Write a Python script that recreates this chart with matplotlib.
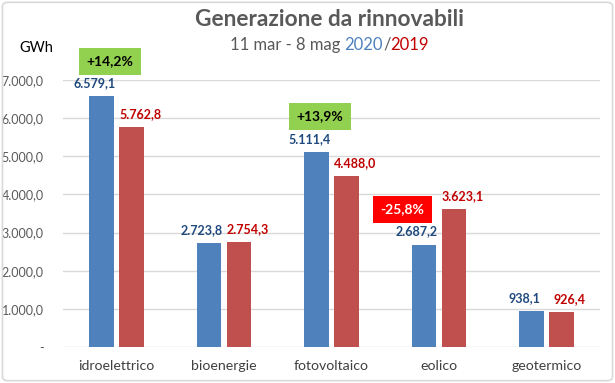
# -*- coding: utf-8 -*-
"""Generazione da rinnovabili, 11 mar - 8 mag 2020/2019"""
import matplotlib
matplotlib.use("Agg")
import matplotlib.pyplot as plt
from matplotlib.patches import FancyBboxPatch
import numpy as np

plt.rcParams["font.family"] = ["Lato", "DejaVu Sans"]

categories = ["idroelettrico", "bioenergie", "fotovoltaico", "eolico", "geotermico"]
val_2020 = [6579.1, 2723.8, 5111.4, 2687.2, 938.1]
val_2019 = [5762.8, 2754.3, 4488.0, 3623.1, 926.4]
yticks = [0, 1000, 2000, 3000, 4000, 5000, 6000, 7000]

# variazioni evidenziate: (categoria, testo, colore box, colore testo)
badges = [
    (0, "+14,2%", "#92D050", "black"),
    (2, "+13,9%", "#92D050", "black"),
    (3, "-25,8%", "#FF0000", "white"),
]

BLUE = "#4F81BD"
RED = "#C0504D"
BLUE_TXT = "#1F497D"
RED_TXT = "#C00000"
GRAY = "#595959"


def it_fmt(v):
    # 6579.1 -> "6.579,1"
    s = f"{v:,.1f}"
    return s.replace(",", "X").replace(".", ",").replace("X", ".")


fig = plt.figure(figsize=(6.15, 3.83), dpi=100)
ax = fig.add_axes([63 / 615, 1 - 347 / 383, 537 / 615, 267 / 383])

x = np.arange(len(categories))
w = 0.23
ax.bar(x - 0.14, val_2020, w, color=BLUE, zorder=3)
ax.bar(x + 0.14, val_2019, w, color=RED, zorder=3)

for xi, v in zip(x, val_2020):
    ax.annotate(it_fmt(v), (xi - 0.14, v), xytext=(-5, 5), textcoords="offset points",
                ha="center", va="bottom", fontsize=9, fontweight="bold", color=BLUE_TXT)
for xi, v in zip(x, val_2019):
    ax.annotate(it_fmt(v), (xi + 0.14, v), xytext=(6, 5), textcoords="offset points",
                ha="center", va="bottom", fontsize=9, fontweight="bold", color=RED_TXT)

# box variazioni (posizione a mano sopra le barre)
badge_pos = {0: (-0.06, 7490), 2: (1.89, 6050), 3: (2.66, 3610)}
for i, txt, fc, tc in badges:
    bx, by = badge_pos[i]
    ax.text(bx, by, txt, ha="center", va="center", fontsize=10, fontweight="bold",
            color=tc, zorder=5,
            bbox=dict(boxstyle="square,pad=0.55", fc=fc, ec="none"))

ax.set_xlim(-0.5, len(categories) - 0.5)
ax.set_ylim(0, 7000)
ax.set_yticks(yticks)
ax.set_yticklabels(["-"] + [it_fmt(t) for t in yticks[1:]])
ax.set_xticks(x)
ax.set_xticklabels(categories, fontsize=10.2, color="#404040")
ax.tick_params(axis="y", length=0, pad=14, labelsize=9, labelcolor=GRAY)
ax.tick_params(axis="x", length=0, pad=9)
ax.grid(axis="y", color="#D9D9D9", linewidth=1, zorder=0)
for s in ax.spines.values():
    s.set_visible(False)

ax.text(-0.082, 1.12, "GWh", transform=ax.transAxes, fontsize=10.5, color="black",
        ha="left", va="center")

# titolo e sottotitolo multicolore
fig.text(0.5 + 22 / 615, 1 - 20 / 383, "Generazione da rinnovabili", ha="center",
         va="center", fontsize=16.3, fontweight="bold", color=GRAY)

parts = [("11 mar - 8 mag ", GRAY), ("2020", BLUE), ("/", GRAY), ("2019", RED_TXT)]
fig.canvas.draw()
r = fig.canvas.get_renderer()
texts = [fig.text(0, 1 - 45 / 383, p, color=c, fontsize=12, va="center", ha="left")
         for p, c in parts]
widths = [t.get_window_extent(r).width for t in texts]
start = (fig.bbox.width * 0.5 + 22 - sum(widths) / 2)
for t, wd in zip(texts, widths):
    t.set_x(start / fig.bbox.width)
    start += wd

# cornice esterna
fig.patches.append(FancyBboxPatch((0.004, 0.006), 0.992, 0.988,
                                  boxstyle="round,pad=0,rounding_size=0.01",
                                  transform=fig.transFigure, fc="none",
                                  ec="#D9D9D9", lw=1.2))

fig.savefig("out.png", dpi=100)
